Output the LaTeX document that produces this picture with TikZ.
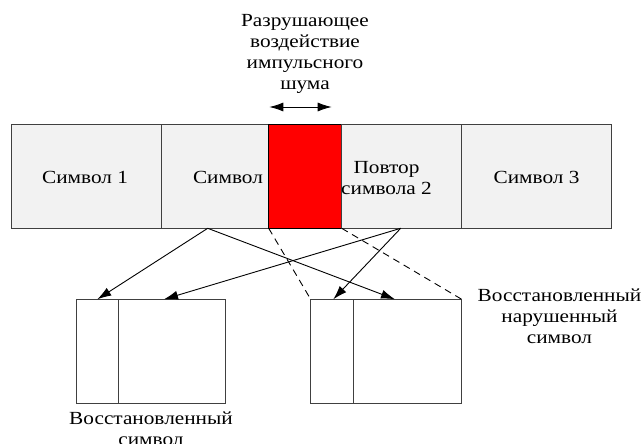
\documentclass[tikz,border=0pt]{standalone}
\usepackage{fontspec}
\setmainfont{Liberation Serif}[FakeStretch=1.15]
\usetikzlibrary{arrows.meta}
\definecolor{cellgray}{RGB}{242,242,242}

\begin{document}
\begin{tikzpicture}[x=1pt, y=-1pt,
  cell/.style={draw=black!75, fill=cellgray, line width=0.9pt, minimum height=104pt,
    inner sep=0pt, outer sep=0pt, anchor=north west},
  outbox/.style={draw=black!75, line width=0.9pt, minimum height=104pt,
    inner sep=0pt, outer sep=0pt, anchor=north west},
  lbl/.style={align=center, inner sep=0pt, font=\fontsize{18.5}{20.8}\selectfont},
  link/.style={line width=0.9pt, -{Latex[length=14pt,width=9pt]}},
  lost/.style={line width=0.9pt, dashed, dash pattern=on 7pt off 5pt}]

\useasboundingbox (0,0) rectangle (641,444);

% Dimensions of the symbol bar
\def\BarTop{124.3}  % top edge
\def\BarBot{228.3}  % bottom edge
\def\BoxTop{299.3}  % top edge of restored symbols

% Symbol bar
\node[cell, minimum width=149.3pt] (sym1) at (11.7,\BarTop) {};
\node[cell, minimum width=107.7pt] (sym2) at (161,\BarTop) {};
\node[cell, fill=red, draw=black, minimum width=73pt] (noise) at (268.7,\BarTop) {};
\node[cell, minimum width=120pt] (rep2) at (341.7,\BarTop) {};
\node[cell, minimum width=150pt] (sym3) at (461.7,\BarTop) {};

% Labels of the bar
\node[lbl] (tsym1) at (85,177) {Символ 1};
\node[lbl] (tsym2) at (228,177) {Символ};
\node[lbl] (trep2) at (386.5,178) {Повтор\\символа 2};
\node[lbl] (tsym3) at (536.5,177) {Символ 3};

% Impulse noise
\node[lbl] (tnoise) at (305,54) {Разрушающее\\воздействие\\импульсного\\шума};
\coordinate (nl) at (269.3,107);
\coordinate (nr) at (331.7,107);
\draw[line width=0.9pt, {Latex[length=14pt,width=9pt]}-{Latex[length=14pt,width=9pt]}] (nl) -- (nr);

% Restored symbols
\node[outbox, minimum width=149.7pt] (recA) at (76,\BoxTop) {};
\draw[line width=0.9pt, draw=black!75] ([xshift=42.3pt]recA.north west) -- ([xshift=42.3pt]recA.south west);
\node[outbox, minimum width=151pt] (recB) at (310.7,\BoxTop) {};
\draw[line width=0.9pt, draw=black!75] ([xshift=42.6pt]recB.north west) -- ([xshift=42.6pt]recB.south west);

\node[lbl] (trecA) at (151,429) {Восстановленный\\символ};
\node[lbl] (trecB) at (559.5,316.5) {Восстановленный\\нарушенный\\символ};

% Connections
\coordinate (srcA) at (207.7,\BarBot);
\coordinate (srcB) at (400.7,\BarBot);
\draw[link] (srcA) -- ([xshift=21.3pt]recA.north west);
\draw[link] (srcA) -- ([xshift=84.3pt]recB.north west);
\draw[link] (srcB) -- ([xshift=88pt]recA.north west);
\draw[link] (srcB) -- ([xshift=22.6pt]recB.north west);
\draw[lost] (noise.south west) -- (recB.north west);
\draw[lost] (noise.south east) -- (recB.north east);

\end{tikzpicture}
\end{document}
